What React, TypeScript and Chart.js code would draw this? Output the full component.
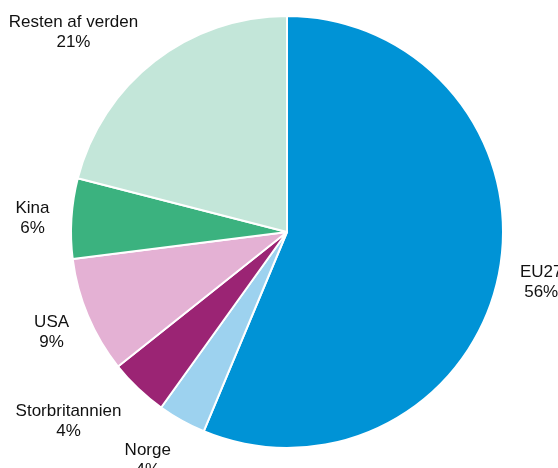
import React, { useEffect, useRef } from "react";
import { Chart, registerables } from "chart.js";

Chart.register(...registerables);

const categories = ["EU27", "Norge", "Storbritannien", "USA", "Kina", "Resten af verden"];
const shares = [56.3, 3.6, 4.4, 8.7, 6.0, 21.0];
const shareLabels = ["56%", "4%", "4%", "9%", "6%", "21%"];
const colors = ["#0093d6", "#9dd2ef", "#9b2474", "#e4b1d4", "#3bb27f", "#c3e6d9"];

// label nudges (pixels) for best-fit placement
const labelNudge: [number, number][] = [
  [0, 0],
  [-12, 3],
  [-18, 2],
  [0, 0],
  [0, 3],
  [-28, 4],
];

const outsideLabels = {
  id: "outsideLabels",
  afterDraw(chart: any) {
    const ctx = chart.ctx as CanvasRenderingContext2D;
    const meta = chart.getDatasetMeta(0);
    const fontSize = 17;
    const lineH = 20;
    ctx.save();
    ctx.font = `${fontSize}px "Liberation Sans", Arial, sans-serif`;
    ctx.fillStyle = "#111111";
    ctx.textAlign = "center";
    ctx.textBaseline = "middle";
    meta.data.forEach((arc: any, i: number) => {
      const { x, y, startAngle, endAngle, outerRadius } = arc.getProps(
        ["x", "y", "startAngle", "endAngle", "outerRadius"],
        true
      );
      const mid = (startAngle + endAngle) / 2;
      const c = Math.cos(mid);
      const s = Math.sin(mid);
      const lines = [categories[i], shareLabels[i]];
      const w = Math.max(...lines.map((l) => ctx.measureText(l).width));
      const h = lineH * lines.length;
      const ax = x + (outerRadius + 22) * c;
      const ay = y + (outerRadius + 22) * s;
      const cx = ax + (c * w) / 2 + labelNudge[i][0];
      const cy = ay + (s * h) / 2 + labelNudge[i][1];
      lines.forEach((l, k) => {
        ctx.fillText(l, cx, cy + (k - (lines.length - 1) / 2) * lineH);
      });
    });
    ctx.restore();
  },
};

export default function App() {
  const ref = useRef<HTMLCanvasElement | null>(null);
  useEffect(() => {
    if (!ref.current) return;
    const chart = new Chart(ref.current, {
      type: "pie",
      data: {
        labels: categories,
        datasets: [
          {
            data: shares,
            backgroundColor: colors,
            borderColor: "#ffffff",
            borderWidth: 2,
          },
        ],
      },
      options: {
        responsive: false,
        animation: false,
        layout: { padding: { left: 70, right: 54, top: 15, bottom: 19 } },
        plugins: {
          legend: { display: false },
          tooltip: { enabled: false },
          title: { display: false },
        },
      },
      plugins: [outsideLabels],
    });
    return () => chart.destroy();
  }, []);
  return (
    <div style={{ position: "fixed", left: 0, top: 0, width: 558, height: 468, background: "#fff" }}>
      <canvas ref={ref} width={558} height={468} style={{ width: 558, height: 468, display: "block" }} />
    </div>
  );
}
